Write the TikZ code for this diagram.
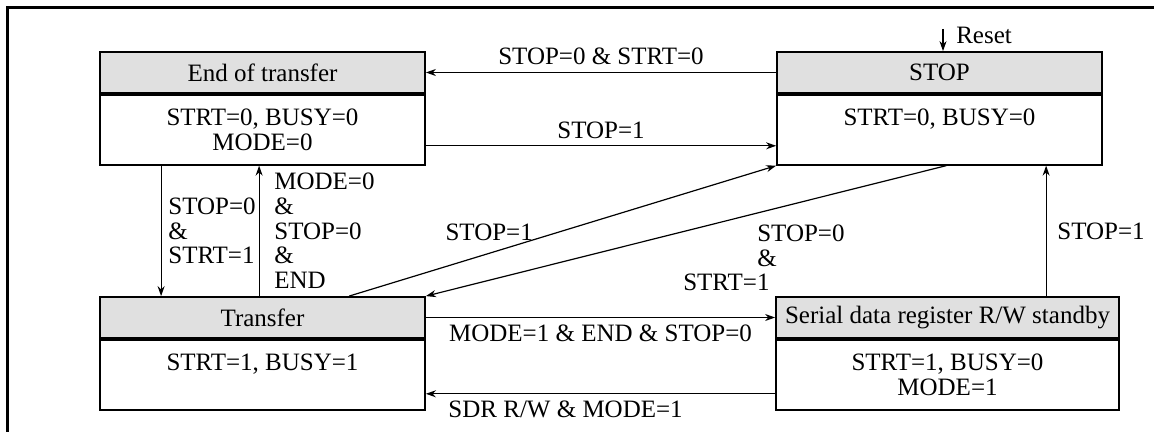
\documentclass[tikz,border=0pt]{standalone}
\usepackage{fontspec}
\setmainfont{Liberation Serif}
\usepackage{tikz}
\usetikzlibrary{arrows.meta,positioning,calc}

\begin{document}
\begin{tikzpicture}[x=0.5pt,y=-0.5pt,
  every node/.style={font=\fontsize{12.5}{12.3}\selectfont},
  statehead/.style={draw,line width=0.9pt,fill=black!12,
        minimum width=162.5pt,minimum height=20.5pt,inner sep=0pt},
  statebody/.style={draw,line width=0.9pt,fill=white,
        minimum width=162.5pt,minimum height=35pt,inner sep=0pt,align=center},
  trans/.style={line width=0.6pt,-{Stealth[length=5pt,width=3.5pt]}}]
  \useasboundingbox (0,0) rectangle (1154,432);
  \draw[line width=1.5pt] (7,432) -- (7,8) -- (1154,8);
  %% End of transfer
  \node[statehead] (endh) at (262.5,72.5) {End of transfer};
  \node[statebody,below=0pt of endh] (endb) {STRT=0, BUSY=0\\MODE=0};
  %% STOP
  \node[statehead] (stoph) at (939.5,72.5) {STOP};
  \node[statebody,below=0pt of stoph] (stopb) {STRT=0, BUSY=0\\\phantom{0}};
  %% Transfer
  \node[statehead] (trh) at (262.5,317.5) {Transfer};
  \node[statebody,below=0pt of trh] (trb) {STRT=1, BUSY=1\\\phantom{0}};
  %% Serial data register R/W standby
  \node[statehead,minimum width=171.5pt] (sdrh) at (947.5,317.5)
        {Serial data register R/W standby};
  \node[statebody,minimum width=171.5pt,below=0pt of sdrh] (sdrb)
        {STRT=1, BUSY=0\\MODE=1};
  %% transitions
  \coordinate (reset) at (943,29);
  \draw[trans] (reset) -- (reset |- stoph.north)
        node[pos=0.3,right,xshift=3pt] {Reset};
  \draw[trans] (stoph.west) -- (endh.east)
        node[midway,above] {STOP=0 \& STRT=0};
  \draw[trans] ([yshift=-8pt]endb.east) -- ([yshift=-8pt]stopb.west)
        node[midway,above] {STOP=1};
  \draw[trans] ([xshift=31pt]endb.south west) -- ([xshift=31pt]trh.north west)
        node[midway,right,align=left] {STOP=0\\\&\\STRT=1};
  \draw[trans] ([xshift=80pt]trh.north west) -- ([xshift=80pt]endb.south west)
        node[midway,right,xshift=4pt,align=left] {MODE=0\\\&\\STOP=0\\\&\\END};
  \draw[trans] ([xshift=125pt]trh.north west) -- (stopb.south west)
        node[pos=0.3,xshift=6pt,yshift=12.5pt] {STOP=1};
  \draw[trans] ([xshift=85pt]stopb.south west) -- (trh.north east)
        node[pos=0.5,anchor=north west,xshift=-5pt,yshift=6.5pt,align=left]
        {\hspace*{37pt}STOP=0\\\hspace*{37pt}\&\\STRT=1};
  \draw[trans] (trh.east) -- (sdrh.west)
        node[midway,below] {MODE=1 \& END \& STOP=0};
  \draw[trans] ([yshift=-9.5pt]sdrb.west) -- ([yshift=-9.5pt]trb.east)
        node[pos=0.6,below] {SDR R/W \& MODE=1};
  \draw[trans] ([xshift=135.5pt]sdrh.north west) -- ([xshift=135pt]stopb.south west)
        node[midway,right,xshift=2pt] {STOP=1};
\end{tikzpicture}
\end{document}
